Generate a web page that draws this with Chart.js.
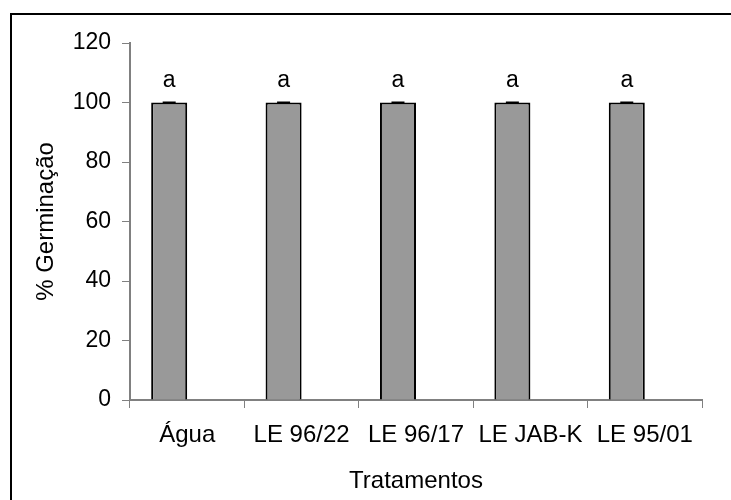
<!DOCTYPE html>
<html>
<head>
<meta charset="utf-8">
<script src="https://cdn.jsdelivr.net/npm/chart.js@4"></script>
<style>
  body { margin: 0; background: #fff; }
  #wrap { width: 731px; height: 500px; }
</style>
</head>
<body>
<div id="wrap"><canvas id="germChart" width="731" height="500"></canvas></div>
<script>
const tratamentos = ["Água", "LE 96/22", "LE 96/17", "LE JAB-K", "LE 95/01"];
const germinacao = [100, 100, 100, 100, 100];
const erros = [0, 0, 0, 0, 0];
const letras = ["a", "a", "a", "a", "a"];
const vazio = [null, null, null, null, null];

const fonte = "'Liberation Sans', Arial, sans-serif";

/* frame, error caps and letters */
const extras = {
  id: "extras",
  beforeDraw(chart) {
    const ctx = chart.ctx;
    ctx.save();
    ctx.fillStyle = "#fff";
    ctx.fillRect(0, 0, chart.width, chart.height);
    ctx.strokeStyle = "#000";
    ctx.lineWidth = 2;
    ctx.beginPath();
    ctx.moveTo(11, chart.height + 5);
    ctx.lineTo(11, 14);
    ctx.lineTo(chart.width + 5, 14);
    ctx.stroke();
    ctx.restore();
  },
  afterDatasetsDraw(chart) {
    const ctx = chart.ctx;
    const y = chart.scales.y;
    const meta = chart.getDatasetMeta(0);
    ctx.save();
    ctx.strokeStyle = "#000";
    ctx.lineWidth = 2;
    ctx.fillStyle = "#000";
    ctx.font = "23px " + fonte;
    ctx.textAlign = "center";
    ctx.textBaseline = "middle";
    meta.data.forEach((bar, i) => {
      const top = y.getPixelForValue(germinacao[i] + erros[i]);
      const bot = y.getPixelForValue(germinacao[i] - erros[i]);
      ctx.beginPath();
      ctx.moveTo(bar.x, top);
      ctx.lineTo(bar.x, bot);
      ctx.moveTo(bar.x - 6.5, top);
      ctx.lineTo(bar.x + 6.5, top);
      ctx.stroke();
      ctx.fillText(letras[i], bar.x, top - 22);
    });
    ctx.restore();
  }
};

new Chart(document.getElementById("germChart"), {
  type: "bar",
  data: {
    labels: tratamentos,
    datasets: [
      {
        data: germinacao,
        backgroundColor: "#999999",
        borderColor: "#000",
        borderWidth: 2,
        categoryPercentage: 0.63,
        barPercentage: 1
      },
      {
        data: vazio,
        backgroundColor: "#fff",
        categoryPercentage: 0.63,
        barPercentage: 1
      }
    ]
  },
  options: {
    responsive: false,
    animation: false,
    layout: { padding: { top: 43, right: 29, left: 0, bottom: 0 } },
    plugins: {
      legend: { display: false },
      tooltip: { enabled: false }
    },
    scales: {
      x: {
        offset: true,
        grid: {
          offset: true,
          drawOnChartArea: false,
          color: "#808080",
          tickLength: 8
        },
        border: { color: "#808080", width: 2 },
        ticks: {
          color: "#000",
          font: { family: fonte, size: 24 },
          padding: 13,
          maxRotation: 0
        },
        title: {
          display: true,
          text: "Tratamentos",
          color: "#000",
          font: { family: fonte, size: 24 },
          padding: { top: 0, bottom: 4 }
        },
        afterFit(scale) { scale.height = 100; }
      },
      y: {
        min: 0,
        max: 120,
        ticks: {
          stepSize: 20,
          color: "#000",
          font: { family: fonte, size: 23 },
          padding: 11
        },
        grid: {
          drawOnChartArea: false,
          color: "#808080",
          tickLength: 8
        },
        border: { color: "#808080", width: 2 },
        title: {
          display: true,
          text: "% Germinação",
          color: "#000",
          font: { family: fonte, size: 24 },
          padding: { top: 32, bottom: 0 }
        },
        afterFit(scale) { scale.width = 130; }
      }
    }
  },
  plugins: [extras]
});
</script>
</body>
</html>
